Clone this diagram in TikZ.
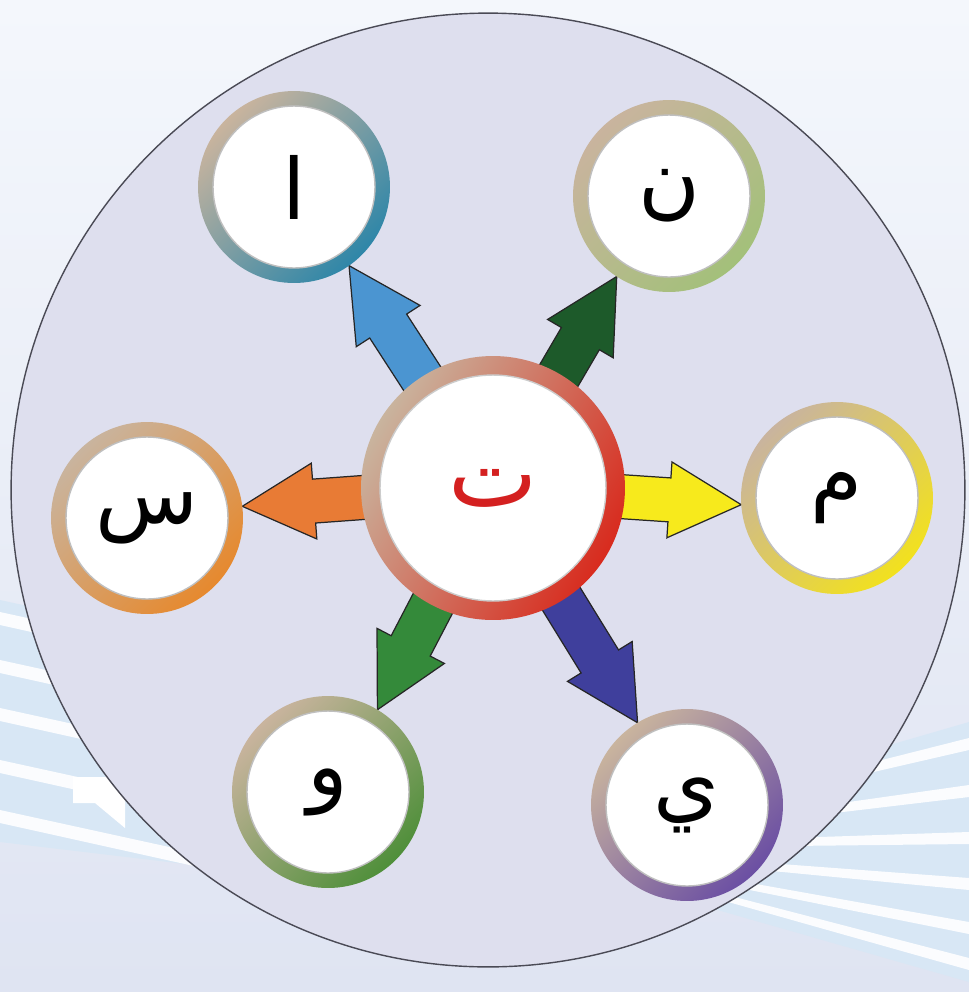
\documentclass[tikz,border=0pt]{standalone}
\usepackage{fontspec}
\newfontfamily\arabicfont[Script=Arabic]{DejaVu Sans}
\TeXXeTstate=1
\usetikzlibrary{calc,backgrounds}
\definecolor{bgtop}{HTML}{F4F7FC}
\definecolor{bgbot}{HTML}{DFE4F2}
\definecolor{stripeblue}{HTML}{D8E7F5}
\definecolor{diskfill}{HTML}{DEDFEE}
\definecolor{diskrim}{HTML}{B8B8C8}
\definecolor{diskedge}{HTML}{4A4A55}
\definecolor{ringtan}{HTML}{C9B49E}
\definecolor{ringA}{HTML}{2E86A8}
\definecolor{ringN}{HTML}{A3C07A}
\definecolor{ringM}{HTML}{F2E11E}
\definecolor{ringS}{HTML}{E6892E}
\definecolor{ringW}{HTML}{4F8F3A}
\definecolor{ringY}{HTML}{6B4FA3}
\definecolor{ringT}{HTML}{D82B1E}
\definecolor{arrA}{HTML}{4B95D1}
\definecolor{arrN}{HTML}{1D5A2A}
\definecolor{arrM}{HTML}{F7EA1C}
\definecolor{arrS}{HTML}{E87B35}
\definecolor{arrW}{HTML}{348A3A}
\definecolor{arrY}{HTML}{3F3F9C}
\definecolor{tared}{HTML}{D42020}
\pgfdeclareradialshading{diskshade}{\pgfpoint{0bp}{0bp}}{color(0bp)=(diskfill); color(47bp)=(diskfill); color(49.6bp)=(diskrim); color(50bp)=(diskrim)}
\begin{document}
\begin{tikzpicture}[x=0.02cm, y=-0.02cm, line join=round]
	\tikzset{
		letterdisc/.style={circle, inner sep=0pt, outer sep=0pt, minimum size=3.84cm,
			left color=ringtan, right color=#1, shading angle=45,
			path picture={
				\fill[white] (path picture bounding box.center) circle (1.62cm);
				\draw[black!25, line width=0.8pt] (path picture bounding box.center) circle (1.62cm);},
			font=\arabicfont\fontsize{48}{52}\selectfont},
		hubdisc/.style={circle, inner sep=0pt, outer sep=0pt, minimum size=5.28cm,
			left color=ringtan, right color=ringT, shading angle=60,
			path picture={
				\fill[white] (path picture bounding box.center) circle (2.26cm);
				\draw[black!20, line width=0.8pt] (path picture bounding box.center) circle (2.26cm);},
			text=tared, font=\arabicfont\fontsize{54}{58}\selectfont},
		fatarrow/.style={draw=black!85, line width=0.7pt, fill=#1}
	}
	\useasboundingbox (0,0) rectangle (969,992);
	% letters
	\node[hubdisc] (ta) at (493,488) {\beginR ت\endR};
	\foreach \nm/\x/\y/\col/\glyph in {alif/294/187/ringA/ا, nun/669/196/ringN/ن, mim/837/498/ringM/م,
		sin/147/518/ringS/س, waw/328/792/ringW/و, ya/687/805/ringY/ي}
		\node[letterdisc=\col] (\nm) at (\x,\y) {\beginR\glyph\endR};
	\begin{scope}[on background layer]
		% backdrop and stripes
		\shade[top color=bgtop, bottom color=bgbot] (0,0) rectangle (969,992);
		\fill[stripeblue] (0,600) -- (320,670) -- (320,880) -- (0,842) -- cycle;
		\foreach \y in {612,660,708,760,810}
			\fill[white, opacity=0.9] (0,\y) -- (320,\y+70) -- (320,\y+84) -- (0,\y+13) -- cycle;
		\fill[stripeblue] (969,722) -- (700,800) -- (700,905) -- (969,982) -- cycle;
		\foreach \y/\l in {738/806,785/823,832/841,878/858,922/874,958/888}
			\fill[white, opacity=0.9] (969,\y) -- (700,\l) -- (700,\l+6) -- (969,\y+12) -- cycle;
		\fill[white] (73,777) -- (125,777) -- (125,828) -- (95,803) -- (73,803) -- cycle;
		% big disc
		\shade[shading=diskshade] (488,490) circle (9.54cm);
		\draw[diskedge, line width=0.8pt] (488,490) circle (9.54cm);
		% arrows
		\foreach \tip/\col in {alif.-55/arrA, nun.-123/arrN, mim.184/arrM, sin.7/arrS, waw.59/arrW, ya.121/arrY}{
			\coordinate (h) at ($(\tip)!1.44cm!(ta)$);
			\filldraw[fatarrow=\col] ($(ta)!0.44cm!90:(\tip)$) -- ($(h)!0.44cm!90:(\tip)$)
				-- ($(h)!0.76cm!90:(\tip)$) -- (\tip) -- ($(h)!0.76cm!-90:(\tip)$)
				-- ($(h)!0.44cm!-90:(\tip)$) -- ($(ta)!0.44cm!-90:(\tip)$) -- cycle;
		}
	\end{scope}
\end{tikzpicture}
\end{document}
